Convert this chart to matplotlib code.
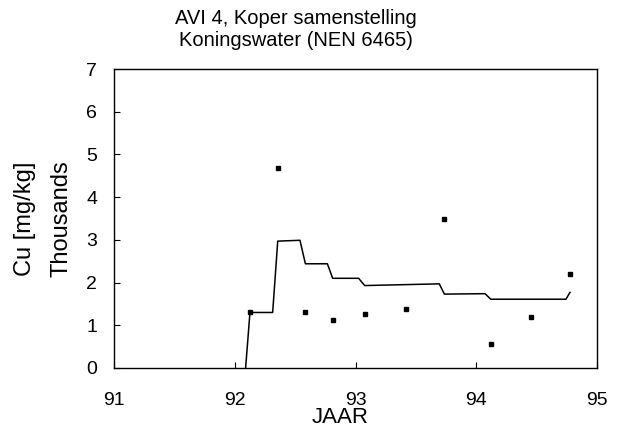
import matplotlib
matplotlib.use("Agg")
import matplotlib.pyplot as plt

plt.rcParams['font.family'] = ['Liberation Sans', 'DejaVu Sans']

# Measured sample values (year, thousands mg/kg)
sample_year = [92.126, 92.356, 92.585, 92.811, 93.076, 93.420, 93.736, 94.120, 94.450, 94.776]
sample_cu = [1.30, 4.69, 1.30, 1.12, 1.26, 1.39, 3.50, 0.56, 1.19, 2.19]

# Step line vertices (year, thousands mg/kg)
line_year = [92.090, 92.126, 92.314, 92.356, 92.540, 92.585, 92.767, 92.811,
             93.026, 93.076, 93.694, 93.736, 94.073, 94.120, 94.743, 94.776]
line_cu = [0.0, 1.30, 1.30, 2.97, 2.99, 2.44, 2.44, 2.10,
           2.10, 1.93, 1.97, 1.73, 1.74, 1.61, 1.61, 1.77]

x_ticks = [91, 92, 93, 94, 95]
y_ticks = [0, 1, 2, 3, 4, 5, 6, 7]

fig = plt.figure(figsize=(6.19, 4.30), dpi=100)
ax = fig.add_axes([114/619, 1-368/430, (597-114)/619, (368-69)/430])

ax.plot(line_year, line_cu, color='black', lw=1.1)
ax.plot(sample_year, sample_cu, linestyle='none', marker='s', ms=3,
        color='black')

ax.set_xlim(91, 95)
ax.set_ylim(0, 7)
ax.set_xticks(x_ticks)
ax.set_xticklabels([str(t) for t in x_ticks])
ax.set_yticks(y_ticks)
ax.set_yticklabels([str(t) for t in y_ticks])
ax.tick_params(axis='both', direction='in', length=4, width=0.8,
               labelsize=14, colors='black')
ax.tick_params(axis='y', pad=12)
ax.tick_params(axis='x', pad=17)
for s in ax.spines.values():
    s.set_color('black')
    s.set_linewidth(1.0)

ax.set_xlabel('JAAR', fontsize=16)
ax.xaxis.set_label_coords((340-114)/483, (368-407)/299)

fig.text(296/619, 1-19/430, 'AVI 4, Koper samenstelling', ha='center',
         va='center', fontsize=14.5)
fig.text(296/619, 1-41/430, 'Koningswater (NEN 6465)', ha='center',
         va='center', fontsize=14.5)
fig.text(25/619, 1-219/430, 'Cu [mg/kg]', rotation=90, ha='center',
         va='center', fontsize=17)
fig.text(61/619, 1-219/430, 'Thousands', rotation=90, ha='center',
         va='center', fontsize=17)

fig.savefig('out.png', dpi=100)
